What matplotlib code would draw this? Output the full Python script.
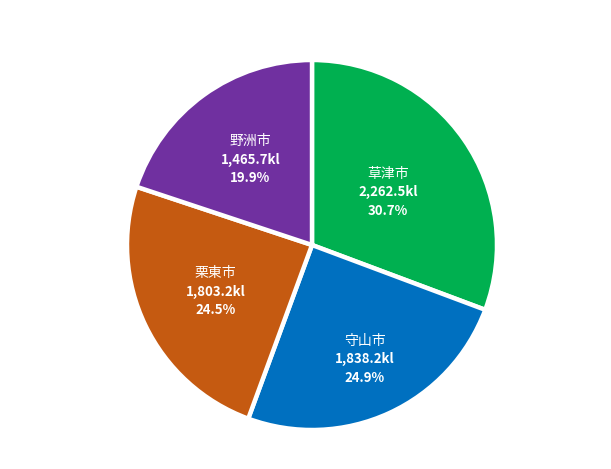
import numpy as np
import matplotlib
matplotlib.use("Agg")
import matplotlib.pyplot as plt

plt.rcParams['font.family'] = ['Noto Sans CJK JP', 'DejaVu Sans']

cities = ["草津市", "守山市", "栗東市", "野洲市"]
volumes = [2262.5, 1838.2, 1803.2, 1465.7]
shares = [30.7, 24.9, 24.5, 19.9]
colors = ["#00B050", "#0070C0", "#C55A11", "#7030A0"]
label_radius = [0.5, 0.68, 0.58, 0.57]

fig = plt.figure(figsize=(6.11, 4.69), dpi=100)
cx, cy, r = 312, 245, 185
ax = fig.add_axes([(cx - r) / 611, (469 - cy - r) / 469, 2 * r / 611, 2 * r / 469])

wedges, _ = ax.pie(shares, colors=colors, startangle=90, counterclock=False,
                   radius=1.0, wedgeprops=dict(edgecolor="white", linewidth=3.2))
ax.set_xlim(-1, 1)
ax.set_ylim(-1, 1)
ax.set_aspect("equal")
ax.axis("off")

for w, name, vol, pct, lr in zip(wedges, cities, volumes, shares, label_radius):
    ang = np.deg2rad((w.theta1 + w.theta2) / 2)
    x, y = lr * np.cos(ang), lr * np.sin(ang)
    ax.text(x, y + 0.1, name, ha="center", va="center", color="white", fontsize=10)
    ax.text(x, y, f"{vol:,.1f}kl", ha="center", va="center", color="white",
            fontsize=9.5, fontweight="bold")
    ax.text(x, y - 0.1, f"{pct}%", ha="center", va="center", color="white",
            fontsize=9.5, fontweight="bold")

fig.savefig("out.png", dpi=100)
